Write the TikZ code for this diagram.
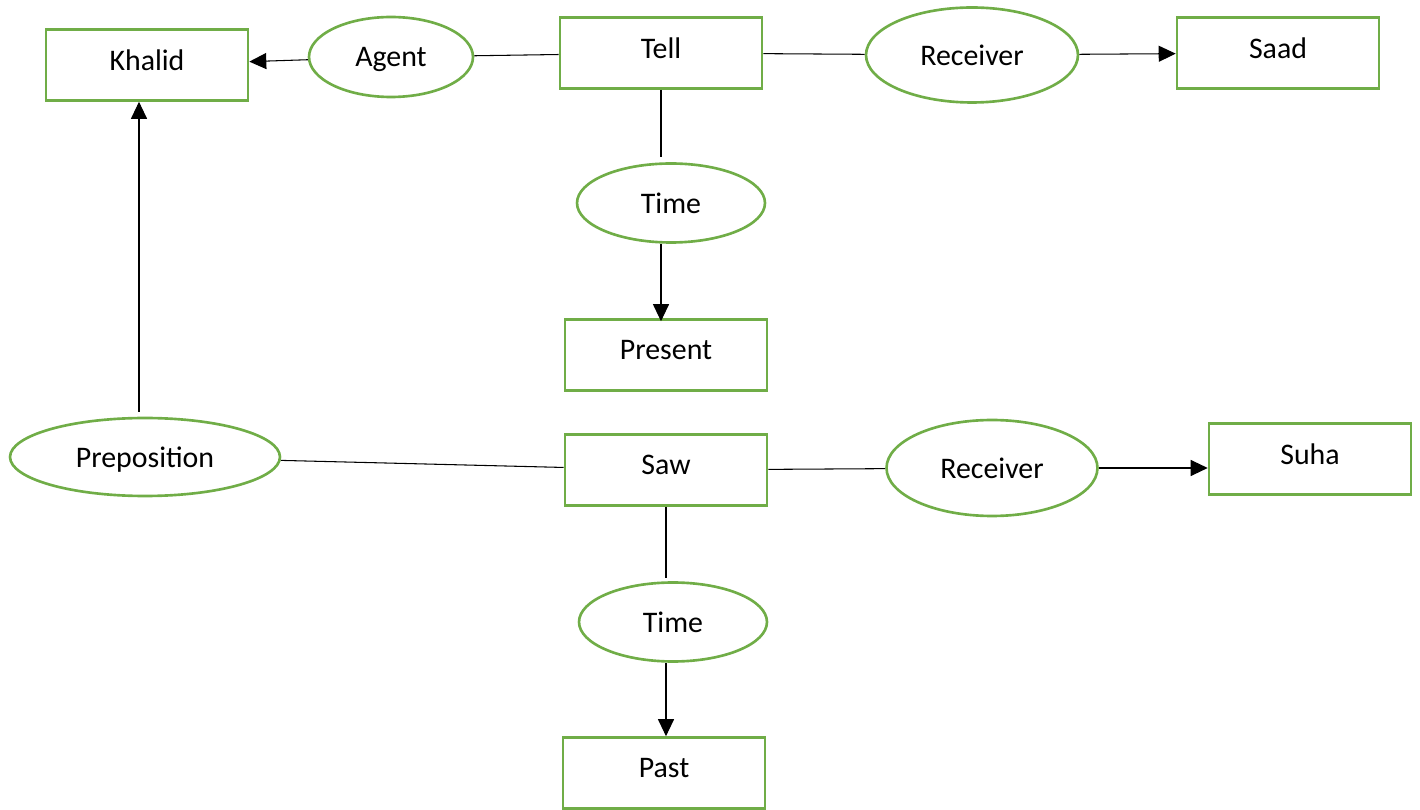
\documentclass[tikz,border=0pt]{standalone}
\usepackage{fontspec}
\setmainfont{Carlito}
\usetikzlibrary{arrows.meta,%
                shapes.geometric}
\definecolor{leaf}{HTML}{70AD47}

\begin{document}
\begin{tikzpicture}
  [x=0.02cm,y=-0.02cm,font=\fontsize{17}{20}\selectfont,
   box/.style={draw=leaf,line width=1.5pt,rectangle,minimum width=4.04cm,minimum height=1.42cm,inner sep=0pt,text depth=0.2cm},
   rel/.style={draw=leaf,line width=1.5pt,ellipse,inner sep=0pt,text depth=0pt},
   link/.style={draw,line width=0.6pt},
   arc/.style={link,-{Triangle[length=0.34cm,width=0.32cm]}}]
  \useasboundingbox (0,0) rectangle (1420,810);
  \node[box] (khalid) at (147,65) {Khalid};
  \node[rel,minimum width=3.28cm,minimum height=1.6cm] (agent) at (391,57) {Agent};
  \node[box] (tell) at (661,53) {Tell};
  \node[rel,minimum width=4.24cm,minimum height=1.9cm] (recvA) at (972,55) {Receiver};
  \node[box] (saad) at (1278,53) {Saad};
  \node[rel,minimum width=3.76cm,minimum height=1.58cm] (timeA) at (671,203) {Time};
  \node[box] (present) at (666,355) {Present};
  \node[rel,minimum width=5.4cm,minimum height=1.56cm] (prep) at (145,457) {Preposition};
  \node[box] (saw) at (666,470) {Saw};
  \node[rel,minimum width=4.22cm,minimum height=1.92cm] (recvB) at (992,468) {Receiver};
  \node[box] (suha) at (1310,459) {Suha};
  \node[rel,minimum width=3.76cm,minimum height=1.58cm] (timeB) at (673,622) {Time};
  \node[box] (past) at (664,773) {Past};
  \foreach \from/\to in {tell/agent,tell/recvA,saw/prep,saw/recvB}
    \draw[link] (\from) -- (\to);
  \foreach \from/\to in {agent/khalid,recvA/saad}
    \draw[arc] (\from) -- (\to);
  % vertical links
  \draw[link,shorten >=0.1cm] (tell.south) -- (tell.south |- timeA.north);
  \draw[arc,shorten >=-0.06cm] (timeA.south -| tell.south) -- (present.north -| tell.south);
  \draw[link,shorten >=0.06cm] (saw.south) -- (saw.south |- timeB.north);
  \draw[arc] (timeB.south -| saw.south) -- (past.north -| saw.south);
  \draw[arc,shorten <=0.1cm] ([xshift=-0.12cm]prep.north) -- ([xshift=-0.12cm]prep.north |- khalid.south);
  \draw[arc] (recvB.east) -- (recvB.east -| suha.west);
\end{tikzpicture}
\end{document}
